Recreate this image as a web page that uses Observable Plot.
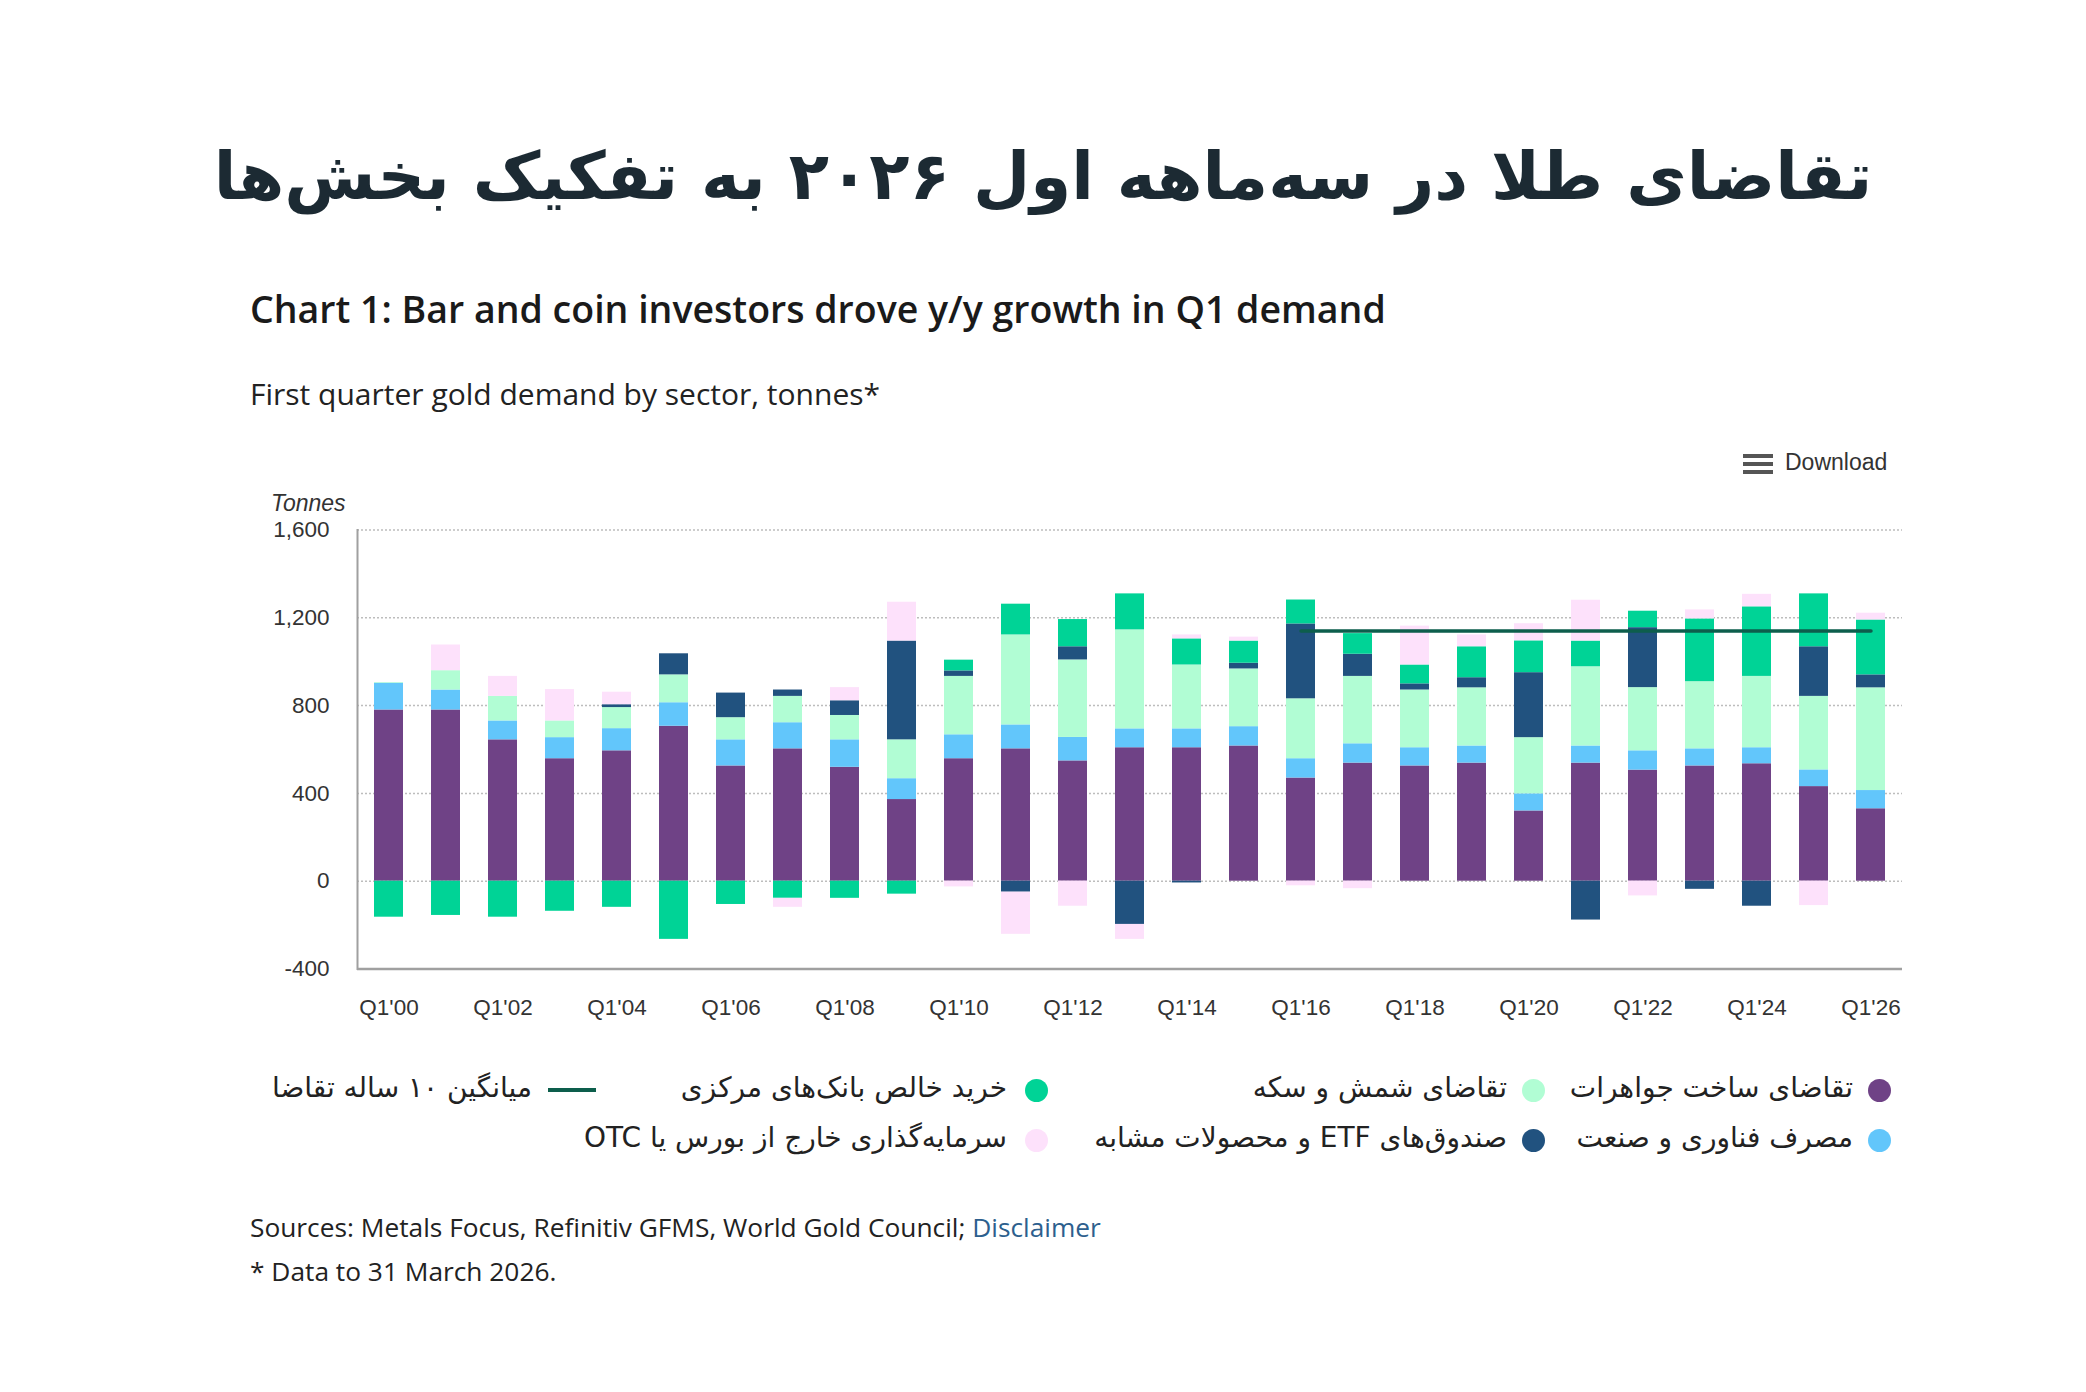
<!DOCTYPE html>
<html>
<head>
<meta charset="utf-8">
<script src="https://cdn.jsdelivr.net/npm/d3@7"></script>
<script src="https://cdn.jsdelivr.net/npm/@observablehq/plot@0.6"></script>
<style>
  html, body { margin: 0; padding: 0; background: #fff; }
  #page { position: relative; width: 2086px; height: 1392px; background: #fff; overflow: hidden; }
  .abs { position: absolute; white-space: nowrap; }
  #title { left: 0; width: 2086px; top: 132px; height: 90px; line-height: 90px; text-align: center;
           font-family: "DejaVu Sans", sans-serif; font-weight: 700; font-size: 66px; color: #1c2a33; }
  #sub1 { left: 250px; top: 286px; line-height: 46px; font-family: "Open Sans", sans-serif; font-weight: 600; font-size: 37.5px; color: #1a1a1a; }
  #sub2 { left: 250px; top: 374px; line-height: 40px; font-family: "Open Sans", sans-serif; font-weight: 400; font-size: 30px; color: #222; }
  #download { left: 1743px; top: 448px; line-height: 28px; font-family: "Liberation Sans", Arial, sans-serif; font-size: 23px; color: #333; }
  #download .ham { display: inline-block; vertical-align: middle; width: 30px; margin-right: 12px; }
  #download .ham i { display: block; height: 4px; background: #555; margin: 4px 0; }
  #tonnes { left: 271px; top: 489px; line-height: 28px; font-family: "Liberation Sans", Arial, sans-serif; font-style: italic; font-size: 23px; color: #333; }
  #chart { position: absolute; left: 0; top: 440px; }
  .leg { position: absolute; direction: rtl; font-family: "DejaVu Sans", sans-serif; font-size: 28px; color: #222; line-height: 36px; }
  .dot { position: absolute; width: 23px; height: 23px; border-radius: 50%; }
  .lsym { position: absolute; height: 4px; }
  #src { left: 250px; top: 1209px; line-height: 36px; font-family: "Open Sans", sans-serif; font-size: 26.3px; color: #222; }
  #src span { color: #2d5f8e; }
  #note { left: 250px; top: 1253px; line-height: 36px; font-family: "Open Sans", sans-serif; font-size: 26.3px; color: #222; }
</style>
</head>
<body>
<div id="page">
  <div id="title" class="abs" dir="rtl">تقاضای طلا در سه‌ماهه اول ۲۰۲۶ به تفکیک بخش‌ها</div>
  <div id="sub1" class="abs">Chart 1: Bar and coin investors drove y/y growth in Q1 demand</div>
  <div id="sub2" class="abs">First quarter gold demand by sector, tonnes*</div>
  <div id="download" class="abs"><span class="ham"><i></i><i></i><i></i></span>Download</div>
  <div id="tonnes" class="abs">Tonnes</div>
  <div id="chart"></div>
  <div id="legend"></div>
  <div id="src" class="abs">Sources: Metals Focus, Refinitiv GFMS, World Gold Council; <span>Disclaimer</span></div>
  <div id="note" class="abs">* Data to 31 March 2026.</div>
</div>
<script>
// ---------- Data ----------
const quarters = ["Q1'00","Q1'01","Q1'02","Q1'03","Q1'04","Q1'05","Q1'06","Q1'07","Q1'08","Q1'09",
                  "Q1'10","Q1'11","Q1'12","Q1'13","Q1'14","Q1'15","Q1'16","Q1'17","Q1'18","Q1'19",
                  "Q1'20","Q1'21","Q1'22","Q1'23","Q1'24","Q1'25","Q1'26"];
const xTickLabels = ["Q1'00","Q1'02","Q1'04","Q1'06","Q1'08","Q1'10","Q1'12","Q1'14","Q1'16","Q1'18","Q1'20","Q1'22","Q1'24","Q1'26"];
const yTicks = [-400, 0, 400, 800, 1200, 1600];

const jewellery = [780,780,644,558,594,706,525,603,519,372,558,603,548,608,608,616,470,538,525,538,320,538,506,525,535,431,330];
const technology = [122,91,86,96,101,107,119,119,125,95,109,109,107,86,86,88,88,88,83,78,78,78,88,78,73,76,83];
const barCoin = [3,88,112,76,96,127,101,120,111,177,266,410,353,451,291,263,273,307,263,265,256,361,288,306,325,335,468];
const etfs = [0,0,0,0,13,96,112,29,67,450,25,-50,60,-197,-8,26,341,101,28,46,296,-177,273,-37,-114,226,59];
const centralBanks = [-164,-156,-164,-137,-119,-265,-106,-78,-78,-59,49,140,124,164,119,101,109,94,86,141,145,117,75,286,317,241,250];
const otc = [0,117,91,143,57,0,0,-41,60,177,-26,-192,-114,-68,18,18,-21,-34,177,54,78,186,-67,41,57,-111,31];

const avgQuarters = ["Q1'16","Q1'26"];
const avgValue = 1140;

const seriesNames = [
  "تقاضای ساخت جواهرات",
  "مصرف فناوری و صنعت",
  "تقاضای شمش و سکه",
  "صندوق‌های ETF و محصولات مشابه",
  "خرید خالص بانک‌های مرکزی",
  "سرمایه‌گذاری خارج از بورس یا OTC"
];
const avgName = "میانگین ۱۰ ساله تقاضا";
const seriesValues = [jewellery, technology, barCoin, etfs, centralBanks, otc];
const seriesColors = ["#6f4286", "#62c6fb", "#b1fdd4", "#21527f", "#00d396", "#fde1fb"];
const avgColor = "#0d5e4c";

// ---------- Table ----------
const rows = [];
seriesNames.forEach((name, si) => {
  quarters.forEach((q, i) => rows.push({quarter: q, series: name, value: seriesValues[si][i]}));
});
const avgRows = avgQuarters.map(q => ({quarter: q, value: avgValue}));

const fmt = d3.formatLocale({decimal: ".", thousands: ",", grouping: [3], currency: ["", ""], minus: "-"}).format(",");

// ---------- Chart ----------
const W = 2086, H = 620;
const chart = Plot.plot({
  width: W,
  height: H,
  marginLeft: 357,
  marginRight: 184,
  marginTop: 89.5,
  marginBottom: 91.5,
  style: {fontFamily: "'Liberation Sans', Arial, sans-serif", fontSize: "22.5px", color: "#333", background: "transparent"},
  x: {domain: quarters, paddingInner: 0.49, paddingOuter: 0.245, label: null},
  y: {domain: [-400, 1600], label: null},
  color: {domain: seriesNames, range: seriesColors},
  marks: [
    Plot.ruleY(yTicks.filter(d => d > -400), {stroke: "#bdbdbd", strokeWidth: 1.5, strokeDasharray: "2,2"}),
    Plot.barY(rows, {x: "quarter", y: "value", fill: "series", order: seriesNames}),
    Plot.lineY(avgRows, {x: "quarter", y: "value", stroke: avgColor, strokeWidth: 3.5}),
    Plot.ruleY([-400], {stroke: "#a0a0a0", strokeWidth: 2.5}),
    Plot.frame({anchor: "left", stroke: "#a0a0a0", strokeWidth: 2}),
    Plot.axisY({ticks: yTicks, tickSize: 0, tickPadding: 28, tickFormat: fmt, label: null, fill: "#333"}),
    Plot.axisX({ticks: xTickLabels, tickSize: 0, tickPadding: 30, label: null, fill: "#333"})
  ]
});
document.getElementById("chart").appendChild(chart);

// ---------- Legend (HTML) ----------
const legend = document.getElementById("legend");
const slotDotX = [1879, 1533, 1036];     // dot centres per column
const slotTextR = [1853, 1507, 1007];    // right edge of text per column
const rowY = [1090, 1140];
const legendSlots = [[0,0],[0,1],[1,0],[1,1],[2,0],[2,1]];
seriesNames.forEach((name, i) => {
  const [c, r] = legendSlots[i];
  const dot = document.createElement("div");
  dot.className = "dot";
  dot.style.background = seriesColors[i];
  dot.style.left = (slotDotX[c] - 11.5) + "px";
  dot.style.top = (rowY[r] - 11.5) + "px";
  legend.appendChild(dot);
  const t = document.createElement("div");
  t.className = "leg";
  t.textContent = name;
  t.style.right = (2086 - slotTextR[c]) + "px";
  t.style.top = (rowY[r] - 20) + "px";
  legend.appendChild(t);
});
const ls = document.createElement("div");
ls.className = "lsym";
ls.style.background = avgColor;
ls.style.left = "548px"; ls.style.width = "48px"; ls.style.top = (rowY[0] - 2) + "px";
legend.appendChild(ls);
const lt = document.createElement("div");
lt.className = "leg";
lt.textContent = avgName;
lt.style.right = (2086 - 532) + "px";
lt.style.top = (rowY[0] - 20) + "px";
legend.appendChild(lt);
</script>
</body>
</html>
